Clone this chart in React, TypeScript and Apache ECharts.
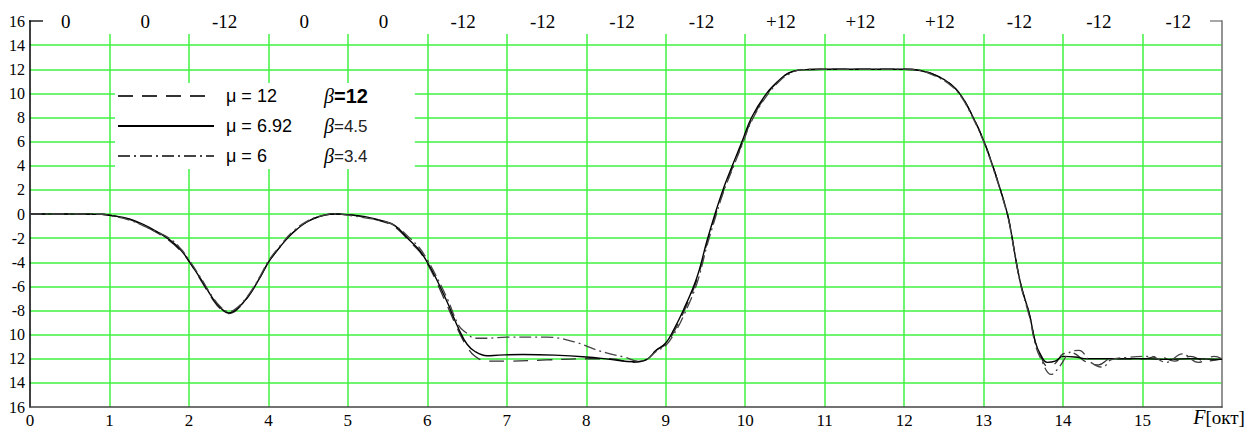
import React, { useEffect, useRef } from "react";
import * as echarts from "echarts";

const xTickLabels = ["0", "1", "2", "4", "5", "6", "7", "8", "9", "10", "11", "12", "13", "14", "15", ""];
const yTickLabels = ["16", "14", "12", "10", "-8", "-6", "-4", "-2", "0", "2", "4", "6", "8", "10", "12", "14", "16"];
const topLabels = ["0", "0", "-12", "0", "0", "-12", "-12", "-12", "-12", "+12", "+12", "+12", "-12", "-12", "-12"];
const seriesNames = ["μ = 12", "μ = 6.92", "μ = 6"];
const betaLabels = ["12", "4.5", "3.4"];

const dashed12 = [
  [0, 0], [0.5, 0], [0.9, -0.02], [1, -0.1], [1.25, -0.45], [1.5, -1.2], [1.75, -2.2], [1.9, -3.1], [2, -3.9],
  [2.15, -5.5], [2.3, -7.1], [2.4, -7.9], [2.5, -8.25], [2.6, -7.95], [2.75, -6.8], [2.9, -5.2], [3, -4.0],
  [3.15, -2.7], [3.3, -1.6], [3.5, -0.6], [3.7, -0.1], [3.85, 0], [4, -0.05], [4.2, -0.25], [4.45, -0.65],
  [4.6, -1.1], [4.78, -2.3], [4.9, -3.1], [5, -4.1], [5.1, -5.4], [5.25, -7.6], [5.4, -9.8], [5.5, -11.0],
  [5.6, -11.8], [5.75, -12.2], [6, -12.2], [6.5, -12.1], [7, -12.0], [7.3, -12.0], [7.6, -12.3], [7.75, -12.1],
  [7.88, -11.3], [8, -10.8], [8.1, -9.8], [8.22, -8.2], [8.39, -5.5], [8.52, -2.4], [8.62, -0.2], [8.72, 1.8],
  [8.85, 4.0], [8.96, 5.8], [9.08, 7.8], [9.27, 9.9], [9.43, 11.1], [9.55, 11.7], [9.7, 11.95], [10, 12],
  [10.5, 12], [11, 12], [11.2, 11.9], [11.4, 11.5], [11.58, 10.8], [11.72, 9.8], [11.87, 8], [12, 6.1],
  [12.12, 3.9], [12.24, 1.4], [12.3, 0], [12.33, -0.9], [12.46, -5.6], [12.58, -8.4], [12.65, -10.6],
  [12.72, -11.8], [12.8, -12.6], [12.9, -12.4], [13, -11.6], [13.1, -11.5], [13.3, -12.3], [13.45, -12.5],
  [13.6, -12.0], [14, -12], [14.2, -11.8], [14.4, -12.2], [14.6, -11.8], [14.8, -12.2], [15, -12],
];

const solid692 = [
  [0, 0], [0.5, 0], [0.9, -0.02], [1, -0.1], [1.25, -0.4], [1.5, -1.1], [1.75, -2.1], [1.9, -3.0], [2, -3.9],
  [2.15, -5.4], [2.3, -7.0], [2.4, -7.8], [2.5, -8.2], [2.6, -7.9], [2.75, -6.8], [2.9, -5.2], [3, -4.0],
  [3.15, -2.7], [3.3, -1.6], [3.5, -0.6], [3.7, -0.1], [3.85, 0], [4, -0.05], [4.2, -0.2], [4.45, -0.6],
  [4.6, -1.0], [4.78, -2.2], [4.9, -3.0], [5, -4.0], [5.1, -5.2], [5.25, -7.3], [5.4, -9.6], [5.5, -10.8],
  [5.6, -11.4], [5.75, -11.75], [5.9, -11.7], [6.2, -11.65], [6.6, -11.7], [7, -11.85], [7.3, -12.05],
  [7.6, -12.25], [7.75, -12.1], [7.88, -11.3], [8, -10.7], [8.1, -9.6], [8.22, -8.0], [8.39, -5.3],
  [8.52, -2.2], [8.62, 0], [8.72, 2], [8.85, 4.2], [8.96, 6], [9.08, 8], [9.27, 10], [9.43, 11.1],
  [9.55, 11.7], [9.7, 11.95], [10, 12], [10.5, 12], [11, 12], [11.2, 11.9], [11.4, 11.5], [11.58, 10.8],
  [11.72, 9.8], [11.87, 8], [12, 6.1], [12.12, 3.9], [12.24, 1.4], [12.3, 0], [12.33, -0.9], [12.46, -5.6],
  [12.58, -8.4], [12.65, -10.6], [12.72, -11.7], [12.8, -12.3], [12.9, -12.2], [13, -11.8], [13.15, -11.85],
  [13.3, -12.0], [13.5, -12], [14, -12], [14.3, -12.05], [14.6, -12], [15, -12.05],
];

const dashDot6 = [
  [0, 0], [0.5, 0], [0.9, -0.02], [1, -0.12], [1.25, -0.5], [1.5, -1.2], [1.75, -2.0], [1.9, -2.9], [2, -3.8],
  [2.15, -5.3], [2.3, -6.9], [2.4, -7.7], [2.5, -8.1], [2.6, -7.8], [2.75, -6.7], [2.9, -5.1], [3, -3.9],
  [3.15, -2.6], [3.3, -1.5], [3.5, -0.55], [3.7, -0.1], [3.85, 0], [4, -0.1], [4.2, -0.3], [4.45, -0.6],
  [4.6, -1.0], [4.78, -2.0], [4.9, -2.8], [5, -3.8], [5.1, -5.0], [5.25, -7.0], [5.4, -9.3], [5.5, -9.9],
  [5.6, -10.3], [5.75, -10.3], [6, -10.2], [6.5, -10.2], [6.85, -10.6], [7.1, -11.2], [7.3, -11.6],
  [7.5, -11.9], [7.65, -12.2], [7.75, -12.1], [7.88, -11.4], [8, -10.9], [8.1, -10.0], [8.22, -8.5],
  [8.39, -5.8], [8.52, -2.6], [8.62, -0.4], [8.72, 1.7], [8.85, 3.9], [8.96, 5.7], [9.08, 7.7], [9.27, 9.8],
  [9.43, 11.0], [9.55, 11.6], [9.7, 11.95], [10, 12], [10.5, 12], [11, 12], [11.2, 11.9], [11.4, 11.4],
  [11.58, 10.7], [11.72, 9.7], [11.87, 7.9], [12, 6.0], [12.12, 3.8], [12.24, 1.3], [12.3, -0.1],
  [12.33, -1.0], [12.46, -5.7], [12.58, -8.6], [12.65, -10.8], [12.72, -12.0], [12.85, -13.3], [12.95, -12.7],
  [13.1, -11.4], [13.2, -11.3], [13.35, -12.3], [13.5, -12.7], [13.6, -12.1], [13.8, -11.9], [14.1, -11.8],
  [14.3, -12.3], [14.5, -11.6], [14.7, -12.3], [14.9, -11.8], [15, -12],
];

const GREEN = "#3ff23f";
const SERIF = "Liberation Serif";
const SANS = "Liberation Sans";

export default function App() {
  const ref = useRef<HTMLDivElement>(null);
  useEffect(() => {
    if (!ref.current) return;
    const chart = echarts.init(ref.current, null, { renderer: "svg" });
    const lineCommon = {
      type: "line" as const,
      xAxisIndex: 0,
      yAxisIndex: 0,
      symbol: "none",
      showSymbol: false,
      smooth: 0.4,
      z: 3,
    };
    chart.setOption({
      animation: false,
      backgroundColor: "#fff",
      textStyle: { fontFamily: SERIF, fontSize: 16, color: "#000" },
      grid: [
        { left: 30, right: 35, top: 21, bottom: 23, containLabel: false, outerBoundsMode: "none" },
        { left: 30, right: 35, top: 34, bottom: 23, containLabel: false, outerBoundsMode: "none" },
      ],
      xAxis: [
        {
          type: "value",
          gridIndex: 0,
          min: 0,
          max: 15,
          interval: 1,
          axisLine: { show: true, onZero: false, lineStyle: { color: "#444", width: 1.5 } },
          axisTick: { show: false },
          splitLine: { show: false },
          axisLabel: {
            margin: 5,
            showMaxLabel: true,
            fontFamily: SERIF,
            fontSize: 17,
            color: "#000",
            formatter: (v: number) => xTickLabels[Math.round(v)] ?? "",
          },
          name: "{f|F}{o|[окт]}",
          nameLocation: "end",
          nameGap: -3,
          nameTextStyle: {
            align: "center",
            verticalAlign: "top",
            padding: [0, 0, 0, 0],
            rich: {
              f: { fontFamily: SERIF, fontStyle: "italic", fontSize: 20, color: "#000" },
              o: { fontFamily: SERIF, fontSize: 19, color: "#000" },
            },
          },
        },
        {
          type: "category",
          gridIndex: 0,
          position: "top",
          data: topLabels,
          boundaryGap: true,
          axisLine: { show: false },
          axisTick: { show: false },
          splitLine: { show: false },
          axisLabel: {
            interval: 0,
            margin: -10,
            padding: [0, 8, 0, 0],
            fontFamily: SERIF,
            fontSize: 19,
            color: "#000",
          },
        },
        {
          type: "value",
          gridIndex: 1,
          min: 0,
          max: 15,
          interval: 1,
          axisLine: { show: false },
          axisTick: { show: false },
          axisLabel: { show: false },
          splitLine: {
            show: true,
            showMinLine: false,
            showMaxLine: false,
            lineStyle: { color: GREEN, width: 1.5 },
          },
        },
      ],
      yAxis: [
        {
          type: "value",
          gridIndex: 0,
          min: -16,
          max: 16,
          interval: 2,
          axisLine: { show: true, onZero: false, lineStyle: { color: "#000", width: 1.5 } },
          axisTick: { show: false },
          axisLabel: {
            margin: 5,
            fontFamily: SERIF,
            fontSize: 16,
            color: "#000",
            formatter: (v: number) => yTickLabels[Math.round((v + 16) / 2)] ?? "",
          },
          splitLine: {
            show: true,
            showMinLine: false,
            showMaxLine: false,
            lineStyle: { color: GREEN, width: 1.5 },
          },
        },
        {
          type: "value",
          gridIndex: 0,
          position: "right",
          min: -16,
          max: 16,
          interval: 2,
          axisLine: { show: true, onZero: false, lineStyle: { color: "#888", width: 1.8 } },
          axisTick: { show: false },
          axisLabel: { show: false },
          splitLine: { show: false },
        },
        {
          type: "value",
          gridIndex: 1,
          min: 0,
          max: 1,
          axisLine: { show: false },
          axisTick: { show: false },
          axisLabel: { show: false },
          splitLine: { show: false },
        },
      ],
      legend: {
        show: true,
        orient: "vertical",
        left: 115,
        top: 83,
        padding: [3, 47, 3, 2],
        itemGap: 10,
        itemWidth: 96,
        itemHeight: 14,
        backgroundColor: "#fff",
        itemStyle: { opacity: 0 },
        data: seriesNames,
        formatter: (name: string) => {
          const i = seriesNames.indexOf(name);
          const e = i === 0 ? "e1" : "e";
          return `{m|${name}}{b|β}{${e}|=${betaLabels[i]}}`;
        },
        textStyle: {
          lineHeight: 14,
          rich: {
            m: { fontFamily: SANS, fontSize: 18, color: "#000", width: 98, padding: [0, 0, 0, 7], lineHeight: 14 },
            b: { fontFamily: SERIF, fontStyle: "italic", fontSize: 20, color: "#000", lineHeight: 14 },
            e: { fontFamily: SANS, fontSize: 17, color: "#222", lineHeight: 14 },
            e1: { fontFamily: SANS, fontSize: 20, color: "#000", fontWeight: "bold", lineHeight: 14 },
          },
        },
      },
      graphic: [
        { type: "line", z: 10, shape: { x1: 29, y1: 21, x2: 43, y2: 21 }, style: { stroke: "#000", lineWidth: 1.3 } },
        { type: "line", z: 10, shape: { x1: 1210, y1: 21, x2: 1222, y2: 21 }, style: { stroke: "#777", lineWidth: 1.3 } },
      ],
      series: [
        {
          ...lineCommon,
          name: seriesNames[0],
          data: dashed12,
          itemStyle: { color: "#333" },
          lineStyle: { color: "#333", width: 1.3, type: [15, 9] },
        },
        {
          ...lineCommon,
          name: seriesNames[1],
          data: solid692,
          itemStyle: { color: "#000" },
          lineStyle: { color: "#000", width: 1.4, type: "solid" },
        },
        {
          ...lineCommon,
          name: seriesNames[2],
          data: dashDot6,
          itemStyle: { color: "#444" },
          lineStyle: { color: "#444", width: 1.3, type: [12, 4, 2, 4] },
        },
      ],
    });
    return () => chart.dispose();
  }, []);
  return (
    <div
      ref={ref}
      style={{ position: "fixed", left: 0, top: 0, width: 1257, height: 430, background: "#fff" }}
    />
  );
}
